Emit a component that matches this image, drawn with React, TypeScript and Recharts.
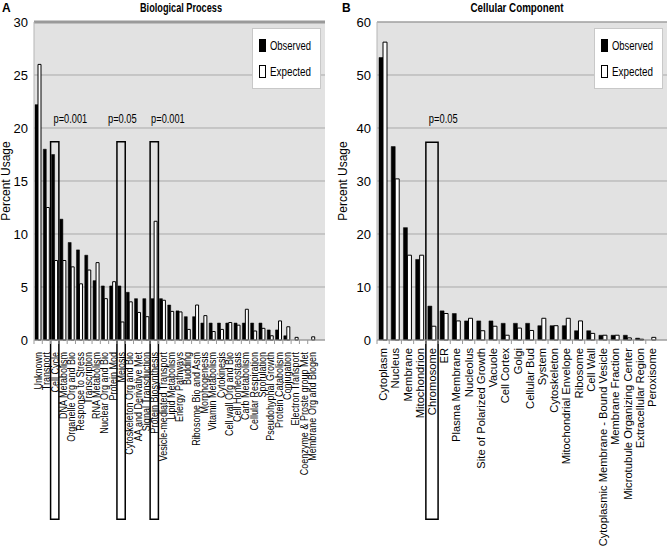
import React from 'react';
import { BarChart, Bar, XAxis, YAxis, CartesianGrid, ReferenceArea, ReferenceLine, Legend, Label } from 'recharts';

// Panel A - Biological Process
const bpCategories = [
  'Unknown', 'Transport', 'Cell Cycle', 'DNA Metabolism', 'Organelle Org and Bio', 'Response to Stress',
  'Transcription', 'RNA Metabolism', 'Nuclear Org and Bio', 'Protein Mod', 'Meiosis', 'Cytoskeleton Org and Bio',
  'AA and Derivative Met', 'Signal Transduction', 'Protein Biosynthesis', 'Vesicle-mediated Transport',
  'Lipid Metabolism', 'Energy Pathways', 'Budding', 'Ribosome Bio and Asm', 'Morphogenesis', 'Vitamin Metabolism',
  'Cytokinesis', 'Cell wall Org and Bio', 'Cell Homeostasis', 'Carb Metabolism', 'Cellular Respiration',
  'Sporulation', 'Pseudohyphal Growth', 'Protein Catabolism', 'Conjugation', 'Electron Transport',
  'Coenzyme & Proste group Met', 'Membrane Org and Biogen',
];
const bpObserved = [
  22.2, 18.0, 17.5, 11.4, 9.2, 8.5, 8.0, 5.6, 5.1, 5.1, 5.1, 4.5, 3.9, 3.9, 3.9, 3.9, 3.3,
  2.75, 2.2, 2.2, 1.6, 1.6, 1.6, 1.6, 1.6, 1.6, 1.6, 1.6, 0.95, 0.95, 0.4, 0, 0, 0,
];
const bpExpected = [
  26.0, 12.5, 7.5, 7.5, 6.9, 5.3, 6.6, 7.3, 3.9, 5.5, 1.7, 3.6, 2.6, 2.2, 11.2, 3.75, 2.7,
  2.65, 1.0, 3.3, 2.3, 0.8, 1.0, 1.65, 1.4, 2.9, 0.85, 1.1, 0.4, 1.8, 1.25, 0.25, 0, 0.3,
];
const bpTicks = [0, 5, 10, 15, 20, 25, 30];
const bpHighlights = ['Cell Cycle', 'Meiosis', 'Protein Biosynthesis'];
const bpPValues = ['p=0.001', 'p=0.05', 'p=0.001'];
const bpBox = [-16.9, 18.7];

// Panel B - Cellular Component
const ccCategories = [
  'Cytoplasm', 'Nucleus', 'Membrane', 'Mitochondrion', 'Chromosome', 'ER', 'Plasma Membrane', 'Nucleolus',
  'Site of Polarized Growth', 'Vacuole', 'Cell Cortex', 'Golgi', 'Cellular Bud', 'System', 'Cytoskeleton',
  'Mitochondrial Envelope', 'Ribosome', 'Cell Wall', 'Cytoplasmic Membrane - Bound Vesicle', 'Membrane Fraction',
  'Microtubule Organizing Center', 'Extracellular  Region', 'Peroxisome',
];
const ccObserved = [
  53.3, 36.5, 21.2, 15.2, 6.4, 5.5, 5.0, 3.6, 3.6, 3.6, 3.15, 3.15, 3.15, 2.7, 2.7, 2.7, 1.75, 1.75,
  0.9, 0.9, 0.9, 0.35, 0,
];
const ccExpected = [
  56.2, 30.4, 16.0, 16.0, 2.6, 5.0, 3.6, 4.1, 1.75, 2.6, 0.9, 2.25, 1.8, 4.1, 2.7, 4.1, 3.6, 1.25,
  0.9, 0.9, 0.4, 0.15, 0.5,
];
const ccTicks = [0, 10, 20, 30, 40, 50, 60];
const ccHighlights = ['Chromosome'];
const ccPValues = ['p=0.05'];
const ccBox = [-33.8, 37.3];

const sans = "Arial, 'Liberation Sans', sans-serif";
const legendOrder = ['Observed', 'Expected'];

function makeTick(fontSize: number, gap: number, squeeze: number) {
  return function CategoryTick(props: any) {
    const { x, y, payload } = props;
    const half = payload && payload.offset ? payload.offset : 4;
    return (
      <g>
        <line x1={x - half} x2={x - half} y1={y - 4} y2={y} stroke="#999" />
        <text
          transform={`translate(${x}, ${y + gap}) rotate(-90) scale(${squeeze}, 1)`}
          textAnchor="end"
          dy={fontSize * 0.36}
          fontSize={fontSize}
          fontFamily={sans}
          fill="#000"
        >
          {payload.value}
        </text>
      </g>
    );
  };
}

function LegendBox({ payload }: any) {
  const items = [...(payload || [])].sort((a: any, b: any) => legendOrder.indexOf(a.value) - legendOrder.indexOf(b.value));
  return (
    <svg width={80} height={61} style={{ display: 'block', overflow: 'visible' }}>
      <rect x={0.5} y={0.5} width={68} height={60} fill="#fff" stroke="#c8c8c8" />
      {items.map((entry: any, i: number) => (
        <g key={entry.value}>
          <rect x={7.5} y={11.5 + i * 26} width={6} height={12} fill={entry.color} stroke="#000" />
          <text x={18} y={22 + i * 26} fontSize={12} fontFamily={sans} textLength={41} lengthAdjust="spacingAndGlyphs" fill="#000">
            {entry.value}
          </text>
        </g>
      ))}
    </svg>
  );
}

interface PanelProps {
  letter: string;
  title: string;
  categories: string[];
  observed: number[];
  expected: number[];
  ticks: number[];
  highlights: string[];
  pValues: string[];
  box: number[];
  left: number;
  width: number;
  yWidth: number;
  padRight: number;
  barSize: number;
  legendLeft: number;
  topStroke: number;
  labelShift: number[];
  yLabelX: number;
  titleX: number;
  titleLen: number;
  letterX: number;
  tickFont: number;
  tickGap: number;
  tickSqueeze: number;
}

function Panel(p: PanelProps) {
  const data = p.categories.map((name, i) => ({ name, observed: p.observed[i], expected: p.expected[i] }));
  const top = p.ticks[p.ticks.length - 1];
  const Tick = makeTick(p.tickFont, p.tickGap, p.tickSqueeze);
  return (
    <div style={{ position: 'absolute', left: p.left, top: 0, width: p.width, height: 555 }}>
      <BarChart
        width={p.width}
        height={555}
        data={data}
        margin={{ top: 22, right: p.width - p.yWidth - 291 + (p.letter === 'B' ? 1 : 0), bottom: 0, left: 0 }}
        barGap={0}
      >
        <text x={p.letterX} y={12} fontFamily={sans} fontWeight="bold" fontSize={12}>
          {p.letter}
        </text>
        <text x={p.titleX} y={12} textAnchor="middle" fontFamily={sans} fontWeight="bold" fontSize={13}
          textLength={p.titleLen} lengthAdjust="spacingAndGlyphs">
          {p.title}
        </text>
        <CartesianGrid vertical={false} fill="#e2e2e2" stroke="#a9a9a9" />
        <XAxis
          dataKey="name"
          interval={0}
          height={215}
          tickSize={4}
          tickMargin={0}
          tickLine={false}
          tick={<Tick />}
          axisLine={{ stroke: '#999' }}
          padding={{ left: 0, right: p.padRight }}
        />
        <YAxis
          width={p.yWidth}
          domain={[0, top]}
          ticks={p.ticks}
          tickLine={false}
          axisLine={{ stroke: '#b5b5b5' }}
          tick={{ fill: '#000', fontSize: 13, fontFamily: sans }}
          tickSize={4}
        >
          <Label
            content={({ viewBox }: any) => {
              const cx = p.yLabelX;
              const cy = viewBox.y + viewBox.height / 2;
              return (
                <text x={cx} y={cy} transform={`rotate(-90, ${cx}, ${cy})`} textAnchor="middle" fontSize={12} fontFamily={sans}>
                  Percent Usage
                </text>
              );
            }}
          />
        </YAxis>
        <ReferenceLine y={top} stroke="#9a9a9a" strokeWidth={p.topStroke} />
        <Bar dataKey="observed" name="Observed" fill="#000" stroke="#000" strokeWidth={0.5} barSize={p.barSize} isAnimationActive={false} />
        <Bar dataKey="expected" name="Expected" fill="#fff" stroke="#000" strokeWidth={1} barSize={p.barSize} isAnimationActive={false} />
        {p.highlights.map((cat, i) => (
          <ReferenceArea
            key={cat}
            x1={cat}
            x2={cat}
            y1={p.box[0]}
            y2={p.box[1]}
            ifOverflow="visible"
            fill="none"
            fillOpacity={0}
            stroke="#000"
            strokeWidth={1.5}
            label={(lp: any) => {
              const vb = lp.viewBox || {};
              return (
                <text x={vb.x + p.labelShift[i]} y={vb.y - 19} fontSize={12} fontFamily={sans} fill="#000"
                  textLength={p.pValues[i].length * 4.8} lengthAdjust="spacingAndGlyphs">
                  {p.pValues[i]}
                </text>
              );
            }}
          />
        ))}
        <Legend
          layout="vertical"
          align="center"
          verticalAlign="middle"
          content={<LegendBox />}
          wrapperStyle={{ left: p.legendLeft, top: 28, width: 80, height: 61 }}
        />
      </BarChart>
    </div>
  );
}

export default function App() {
  return (
    <div style={{ position: 'absolute', left: 0, top: 0, width: 669, height: 555, background: '#fff', overflow: 'hidden' }}>
      <Panel
        letter="A"
        title="Biological Process"
        categories={bpCategories}
        observed={bpObserved}
        expected={bpExpected}
        ticks={bpTicks}
        highlights={bpHighlights}
        pValues={bpPValues}
        box={bpBox}
        left={0}
        width={335}
        yWidth={34}
        padRight={9}
        barSize={3}
        legendLeft={252}
        topStroke={3}
        labelShift={[3, -9, 1]}
        yLabelX={10}
        titleX={181}
        titleLen={82}
        letterX={2}
        tickFont={11}
        tickGap={8}
        tickSqueeze={0.82}
      />
      <Panel
        letter="B"
        title="Cellular Component"
        categories={ccCategories}
        observed={ccObserved}
        expected={ccExpected}
        ticks={ccTicks}
        highlights={ccHighlights}
        pValues={ccPValues}
        box={ccBox}
        left={335}
        width={334}
        yWidth={42}
        padRight={9}
        barSize={4}
        legendLeft={259}
        topStroke={1}
        labelShift={[3]}
        yLabelX={12}
        titleX={182}
        titleLen={93}
        letterX={7}
        tickFont={11.2}
        tickGap={4}
        tickSqueeze={1}
      />
    </div>
  );
}
